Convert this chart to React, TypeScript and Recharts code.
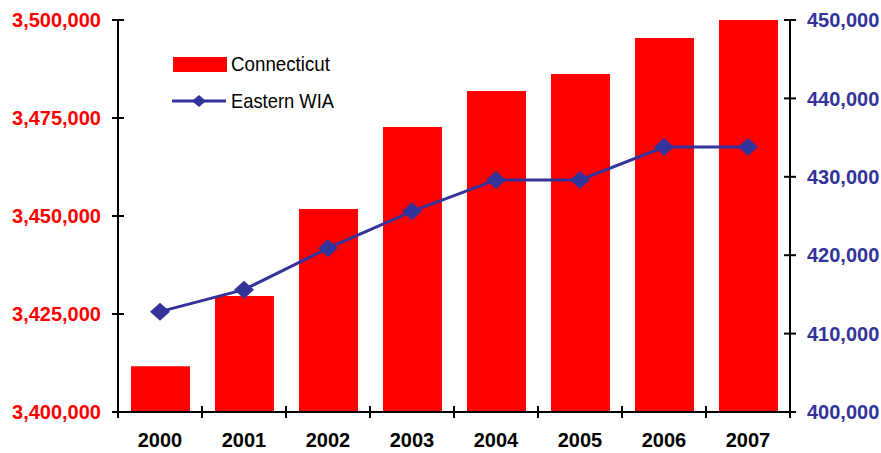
import React from "react";
import { Bar, ComposedChart, Legend, Line, XAxis, YAxis } from "recharts";

const years = ["2000", "2001", "2002", "2003", "2004", "2005", "2006", "2007"];
const connecticut = [3411700, 3429600, 3451800, 3472700, 3481900, 3486200, 3495400, 3500800];
const easternWia = [412800, 415600, 420900, 425600, 429600, 429600, 433800, 433800];
const leftTicks = [3400000, 3425000, 3450000, 3475000, 3500000];
const rightTicks = [400000, 410000, 420000, 430000, 440000, 450000];

const data = years.map((year, i) => ({
  year,
  connecticut: connecticut[i],
  eastern: easternWia[i],
}));

const RED = "#ff0000";
const BLUE = "#333399";
const FONT = "'Liberation Sans', Arial, Helvetica, sans-serif";
const fmt = (v: number) => v.toLocaleString("en-US");

function LeftTick({ x, y, payload }: any) {
  return (
    <g>
      <line x1={x - 6} x2={x + 6} y1={y} y2={y} stroke="#000" strokeWidth={2} />
      <text x={x - 17} y={y} dy="0.36em" textAnchor="end" fill={RED} fontSize={20} fontWeight="bold" fontFamily={FONT}>
        {fmt(payload.value)}
      </text>
    </g>
  );
}

function RightTick({ x, y, payload }: any) {
  return (
    <g>
      <line x1={x - 6} x2={x + 6} y1={y} y2={y} stroke="#000" strokeWidth={2} />
      <text x={x + 17} y={y} dy="0.36em" textAnchor="start" fill={BLUE} fontSize={20} fontWeight="bold" fontFamily={FONT}>
        {fmt(payload.value)}
      </text>
    </g>
  );
}

function YearTick({ x, y, payload, index }: any) {
  const half = 42;
  return (
    <g>
      <line x1={x - half} x2={x - half} y1={y - 6} y2={y + 6} stroke="#000" strokeWidth={2} />
      {index === years.length - 1 && (
        <line x1={x + half} x2={x + half} y1={y - 6} y2={y + 6} stroke="#000" strokeWidth={2} />
      )}
      <text x={x} y={y + 35} textAnchor="middle" fill="#000" fontSize={20} fontWeight="bold" fontFamily={FONT}>
        {payload.value}
      </text>
    </g>
  );
}

function Diamond({ cx, cy, rx = 10, ry = 9 }: any) {
  if (cx == null || cy == null) return null;
  return <path d={`M${cx},${cy - ry}L${cx + rx},${cy}L${cx},${cy + ry}L${cx - rx},${cy}Z`} fill={BLUE} />;
}

function LegendBox() {
  return (
    <svg width={200} height={72}>
      <rect x={3} y={12} width={54} height={15} fill={RED} />
      <text x={61} y={26} fontSize={21} fontFamily={FONT} fill="#000" textLength={99} lengthAdjust="spacingAndGlyphs">
        Connecticut
      </text>
      <line x1={2} x2={56} y1={56} y2={56} stroke={BLUE} strokeWidth={3} />
      <Diamond cx={29} cy={56} rx={7} ry={6} />
      <text x={61} y={63} fontSize={21} fontFamily={FONT} fill="#000" textLength={103} lengthAdjust="spacingAndGlyphs">
        Eastern WIA
      </text>
    </svg>
  );
}

export default function App() {
  return (
    <div style={{ position: "absolute", left: 0, top: 0, background: "#fff" }}>
      <ComposedChart width={881} height={453} data={data} margin={{ top: 20, right: 0, bottom: 0, left: 0 }}>
        <XAxis
          dataKey="year"
          height={41}
          tickSize={0}
          tickMargin={0}
          tick={<YearTick />}
          axisLine={{ stroke: "#000", strokeWidth: 2 }}
          tickLine={false}
          interval={0}
        />
        <YAxis
          yAxisId="left"
          width={118}
          domain={[3400000, 3500000]}
          ticks={leftTicks}
          allowDataOverflow
          tickSize={0}
          tickMargin={0}
          tick={<LeftTick />}
          axisLine={{ stroke: "#000", strokeWidth: 2 }}
          tickLine={false}
        />
        <YAxis
          yAxisId="right"
          orientation="right"
          width={91}
          domain={[400000, 450000]}
          ticks={rightTicks}
          tickSize={0}
          tickMargin={0}
          tick={<RightTick />}
          axisLine={{ stroke: "#000", strokeWidth: 2 }}
          tickLine={false}
        />
        <Legend
          layout="vertical"
          align="center"
          verticalAlign="middle"
          wrapperStyle={{ left: 170, top: 45, width: 200 }}
          content={() => <LegendBox />}
        />
        <Bar yAxisId="left" dataKey="connecticut" name="Connecticut" fill={RED} barSize={59} isAnimationActive={false} />
        <Line
          yAxisId="right"
          dataKey="eastern"
          name="Eastern WIA"
          stroke={BLUE}
          strokeWidth={3}
          dot={<Diamond />}
          activeDot={false}
          isAnimationActive={false}
        />
      </ComposedChart>
    </div>
  );
}
